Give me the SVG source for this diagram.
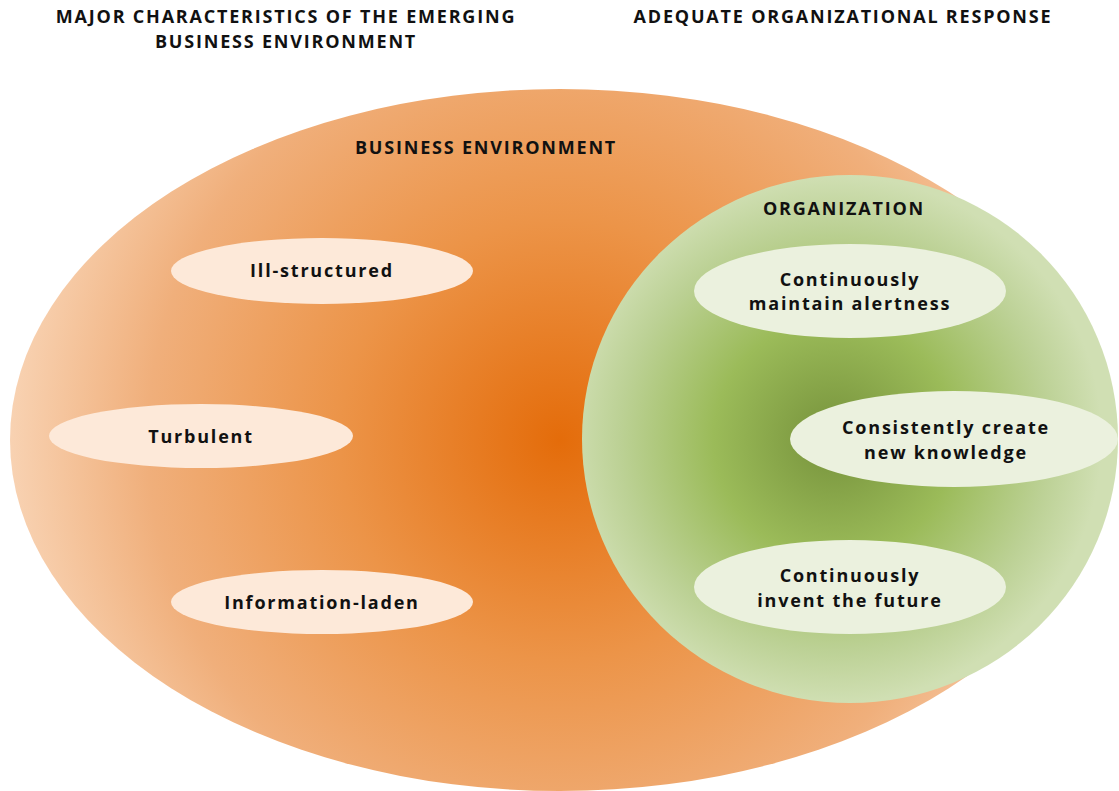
<svg xmlns="http://www.w3.org/2000/svg" width="1119" height="791" viewBox="0 0 1119 791">
  <defs>
    <radialGradient id="envFill" gradientUnits="userSpaceOnUse" cx="560" cy="440" r="550">
      <stop offset="0" stop-color="#E46C0A"/>
      <stop offset="0.4" stop-color="#EC9448"/>
      <stop offset="0.75" stop-color="#F0AF7B"/>
      <stop offset="1" stop-color="#F8D2B2"/>
    </radialGradient>
    <radialGradient id="orgFill" cx="0.47" cy="0.5" r="0.5">
      <stop offset="0" stop-color="#76923B"/>
      <stop offset="0.45" stop-color="#9BBB59"/>
      <stop offset="0.8" stop-color="#BCD195"/>
      <stop offset="1" stop-color="#D0DFB3"/>
    </radialGradient>
    <style>
      text { font-family: "Open Sans", "Liberation Sans", sans-serif; font-weight: bold; fill: #111; text-anchor: middle; font-size: 18px; letter-spacing: 1.8px; }
      .env-item { fill: #FDE9D9; }
      .org-item { fill: #EBF1DE; }
    </style>
  </defs>

  <g id="headings">
    <text x="286" y="23">MAJOR CHARACTERISTICS OF THE EMERGING</text>
    <text x="286" y="48">BUSINESS ENVIRONMENT</text>
    <text x="843" y="23">ADEQUATE ORGANIZATIONAL RESPONSE</text>
  </g>

  <g id="business-environment">
    <ellipse cx="560" cy="440" rx="550" ry="351" fill="url(#envFill)"/>
    <text x="486" y="154">BUSINESS ENVIRONMENT</text>
  </g>

  <g id="ill-structured">
    <ellipse class="env-item" cx="322" cy="271" rx="151" ry="33"/>
    <text x="322" y="277">Ill-structured</text>
  </g>
  <g id="turbulent">
    <ellipse class="env-item" cx="201" cy="436" rx="152" ry="32"/>
    <text x="201" y="443">Turbulent</text>
  </g>
  <g id="information-laden">
    <ellipse class="env-item" cx="322" cy="602" rx="151" ry="32"/>
    <text x="322" y="609">Information-laden</text>
  </g>

  <g id="organization">
    <ellipse cx="850" cy="439" rx="268" ry="264" fill="url(#orgFill)"/>
    <text x="844" y="215">ORGANIZATION</text>
  </g>

  <g id="maintain-alertness">
    <ellipse class="org-item" cx="850" cy="291" rx="156" ry="47"/>
    <text x="850" y="286">Continuously</text>
    <text x="850" y="310">maintain alertness</text>
  </g>
  <g id="create-knowledge">
    <ellipse class="org-item" cx="954" cy="439" rx="164" ry="48"/>
    <text x="946" y="434">Consistently create</text>
    <text x="946" y="459">new knowledge</text>
  </g>
  <g id="invent-future">
    <ellipse class="org-item" cx="850" cy="587" rx="156" ry="47"/>
    <text x="850" y="582">Continuously</text>
    <text x="850" y="607">invent the future</text>
  </g>

  <g id="connectors"/>
</svg>
